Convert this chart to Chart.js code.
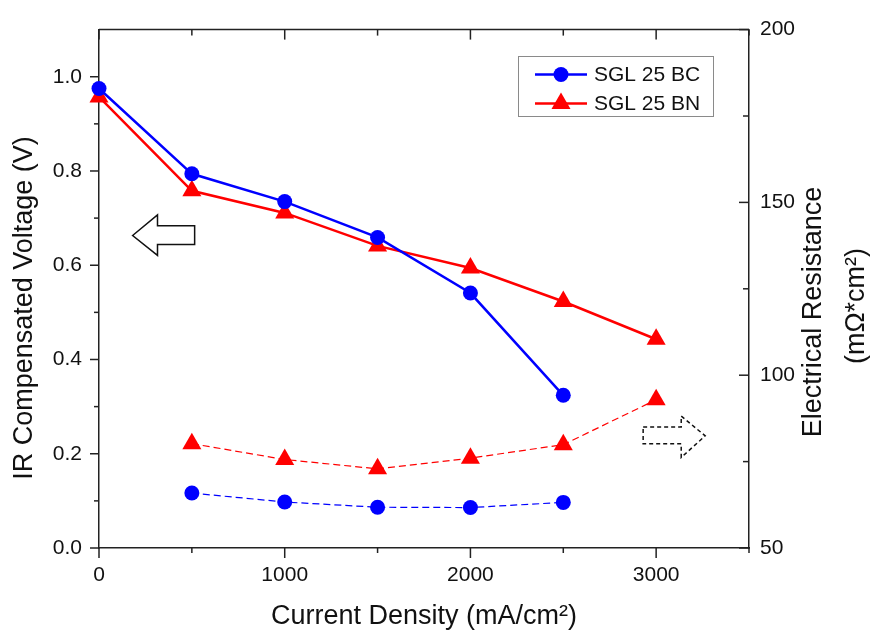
<!DOCTYPE html>
<html><head><meta charset="utf-8">
<script src="https://cdn.jsdelivr.net/npm/chart.js@4.4.1/dist/chart.umd.min.js"></script>
<style>html,body{margin:0;padding:0;background:#fff}#wrap{width:872px;height:633px}</style>
</head><body><div id="wrap"><canvas id="c" width="872" height="633"></canvas></div>
<script>
// ---- data ----
const currentDensityBC = [0, 500, 1000, 1500, 2000, 2500];
const currentDensityBN = [0, 500, 1000, 1500, 2000, 2500, 3000];
const voltageBC = [0.975, 0.794, 0.735, 0.659, 0.541, 0.324];
const voltageBN = [0.957, 0.758, 0.711, 0.641, 0.594, 0.523, 0.443];
const resistanceDensityBC = [500, 1000, 1500, 2000, 2500];
const resistanceDensityBN = [500, 1000, 1500, 2000, 2500, 3000];
const resistanceBC = [65.9, 63.3, 61.8, 61.7, 63.2];
const resistanceBN = [80.2, 75.6, 72.9, 76.0, 79.9, 92.9];
const xTicks = [0, 1000, 2000, 3000];
const xMinorTicks = [500, 1500, 2500, 3500];
const yTicks = [0.0, 0.2, 0.4, 0.6, 0.8, 1.0];
const yMinorTicks = [0.1, 0.3, 0.5, 0.7, 0.9];
const y1Ticks = [50, 100, 150, 200];
const y1MinorTicks = [75, 125, 175];
const seriesNames = ['SGL 25 BC', 'SGL 25 BN'];
const xTitle = 'Current Density (mA/cm²)';
const yTitle = 'IR Compensated Voltage (V)';
const y1Title = ['Electrical Resistance', '(mΩ*cm²)'];

const BLUE = '#0000ff', RED = '#ff0000', AX = '#222222';
const FONT = 'Liberation Sans, Arial, sans-serif';
const TITLE_SIZE = 27, TICK_SIZE = 21, LEGEND_SIZE = 21;

const pts = (xs, ys) => xs.map((x, i) => ({x, y: ys[i]}));

const datasets = [
  {label: seriesNames[0], data: pts(currentDensityBC, voltageBC), yAxisID: 'y',
   borderColor: BLUE, backgroundColor: BLUE, borderWidth: 2.5, pointStyle: 'circle',
   pointRadius: 7.5, pointHoverRadius: 7.5, pointBorderWidth: 0, clip: false},
  {label: seriesNames[1], data: pts(currentDensityBN, voltageBN), yAxisID: 'y',
   borderColor: RED, backgroundColor: RED, borderWidth: 2.5, pointStyle: 'triangle',
   pointRadius: 11, pointHoverRadius: 11, pointBorderWidth: 0, clip: false},
  {label: seriesNames[0] + ' resistance', data: pts(resistanceDensityBC, resistanceBC), yAxisID: 'y1',
   borderColor: BLUE, backgroundColor: BLUE, borderWidth: 1.2, borderDash: [7, 4], pointStyle: 'circle',
   pointRadius: 7.5, pointHoverRadius: 7.5, pointBorderWidth: 0, clip: false},
  {label: seriesNames[1] + ' resistance', data: pts(resistanceDensityBN, resistanceBN), yAxisID: 'y1',
   borderColor: RED, backgroundColor: RED, borderWidth: 1.2, borderDash: [7, 4], pointStyle: 'triangle',
   pointRadius: 11, pointHoverRadius: 11, pointBorderWidth: 0, clip: false}
];

// arrows defined in data units (x: current density, y: left voltage axis)
const leftArrow = [[181,0.663],[315,0.707],[315,0.684],[515,0.684],[515,0.644],[315,0.644],[315,0.621]];
const rightArrow = [[2930,0.257],[3135,0.257],[3135,0.280],[3264,0.238],[3135,0.192],[3135,0.221],[2930,0.221]];

const decor = {
  id: 'decor',
  afterDraw(chart) {
    const ctx = chart.ctx, a = chart.chartArea;
    const sx = chart.scales.x, sy = chart.scales.y, sy1 = chart.scales.y1;
    ctx.save();
    ctx.strokeStyle = AX; ctx.lineWidth = 1.5; ctx.setLineDash([]);
    ctx.beginPath(); ctx.moveTo(a.left, a.top); ctx.lineTo(a.right, a.top); ctx.stroke();
    const line = (x1, y1, x2, y2) => { ctx.beginPath(); ctx.moveTo(x1, y1); ctx.lineTo(x2, y2); ctx.stroke(); };
    xTicks.forEach(v => { const p = sx.getPixelForValue(v); line(p, a.bottom, p, a.bottom + 10); line(p, a.top, p, a.top + 10); });
    xMinorTicks.forEach(v => { const p = sx.getPixelForValue(v); line(p, a.bottom, p, a.bottom + 5); line(p, a.top, p, a.top + 6); });
    yTicks.forEach(v => { const p = sy.getPixelForValue(v); line(a.left - 9, p, a.left, p); });
    yMinorTicks.forEach(v => { const p = sy.getPixelForValue(v); line(a.left - 5, p, a.left, p); });
    y1Ticks.forEach(v => { const p = sy1.getPixelForValue(v); line(a.right - 10, p, a.right, p); });
    y1MinorTicks.forEach(v => { const p = sy1.getPixelForValue(v); line(a.right - 6, p, a.right, p); });

    const poly = (arr, dash) => {
      ctx.beginPath();
      arr.forEach(([x, y], i) => {
        const px = sx.getPixelForValue(x), py = sy.getPixelForValue(y);
        if (i === 0) ctx.moveTo(px, py); else ctx.lineTo(px, py);
      });
      ctx.closePath();
      ctx.setLineDash(dash); ctx.strokeStyle = '#111'; ctx.lineWidth = 1.5; ctx.stroke();
      ctx.setLineDash([]);
    };
    poly(leftArrow, []);
    poly(rightArrow, [4, 3]);

    ctx.fillStyle = '#111'; ctx.textAlign = 'center'; ctx.textBaseline = 'middle';
    ctx.font = TITLE_SIZE + 'px ' + FONT;
    ctx.save(); ctx.translate(25, 308); ctx.rotate(-Math.PI / 2); ctx.fillText(yTitle, 0, 0); ctx.restore();
    ctx.save(); ctx.translate(814, 312); ctx.rotate(-Math.PI / 2); ctx.fillText(y1Title[0], 0, 0); ctx.restore();
    ctx.save(); ctx.translate(857, 306); ctx.rotate(-Math.PI / 2); ctx.fillText(y1Title[1], 0, 0); ctx.restore();

    const lx = 518, ly = 56, lw = 195, lh = 60;
    ctx.strokeStyle = '#8a8a8a'; ctx.lineWidth = 1;
    ctx.strokeRect(lx + 0.5, ly + 0.5, lw, lh);
    const rows = [74.5, 103.5];
    [0, 1].forEach(i => {
      const ds = chart.data.datasets[i];
      const y = rows[i];
      ctx.strokeStyle = ds.borderColor; ctx.lineWidth = 2.5;
      line(535, y, 587, y);
      ctx.fillStyle = ds.backgroundColor;
      ctx.beginPath();
      if (ds.pointStyle === 'circle') { ctx.arc(561, y, ds.pointRadius, 0, Math.PI * 2); }
      else {
        const r = ds.pointRadius;
        ctx.moveTo(561, y - r);
        ctx.lineTo(561 + Math.sin(2 * Math.PI / 3) * r, y + r / 2);
        ctx.lineTo(561 - Math.sin(2 * Math.PI / 3) * r, y + r / 2);
        ctx.closePath();
      }
      ctx.fill();
      ctx.fillStyle = '#111'; ctx.textAlign = 'left'; ctx.textBaseline = 'middle';
      ctx.font = LEGEND_SIZE + 'px ' + FONT;
      ctx.fillText(seriesNames[i], 594, y + 1);
    });
    ctx.restore();
  }
};

const tickFont = {family: FONT, size: TICK_SIZE};
new Chart(document.getElementById('c'), {
  type: 'line',
  data: {datasets},
  options: {
    responsive: false, animation: false, devicePixelRatio: 1,
    layout: {padding: {top: 25, left: 0, right: 0, bottom: 0}},
    plugins: {legend: {display: false}, tooltip: {enabled: false}},
    elements: {line: {tension: 0}},
    scales: {
      x: {type: 'linear', min: 0, max: 3500,
        afterBuildTicks: s => { s.ticks = xTicks.map(v => ({value: v})); },
        afterFit: s => { s.height = 85; },
        ticks: {font: tickFont, color: '#111', padding: 15, maxRotation: 0, autoSkip: false, callback: v => String(v)},
        grid: {display: false, drawTicks: false},
        border: {display: true, color: AX, width: 1.5},
        title: {display: true, text: xTitle, font: {family: FONT, size: TITLE_SIZE}, color: '#111', padding: {top: 0, bottom: 0}}},
      y: {type: 'linear', position: 'left', min: 0, max: 1.1,
        afterBuildTicks: s => { s.ticks = yTicks.map(v => ({value: v})); },
        afterFit: s => { s.width = 99; },
        ticks: {font: tickFont, color: '#111', padding: 17, callback: v => Number(v).toFixed(1)},
        grid: {display: false, drawTicks: false},
        border: {display: true, color: AX, width: 1.5},
        title: {display: false, text: yTitle}},
      y1: {type: 'linear', position: 'right', min: 50, max: 200,
        afterBuildTicks: s => { s.ticks = y1Ticks.map(v => ({value: v})); },
        afterFit: s => { s.width = 123; },
        ticks: {font: tickFont, color: '#111', padding: 11, callback: v => String(v)},
        grid: {display: false, drawTicks: false},
        border: {display: true, color: AX, width: 1.5},
        title: {display: false, text: y1Title}}
    }
  },
  plugins: [decor]
});
</script></body></html>
